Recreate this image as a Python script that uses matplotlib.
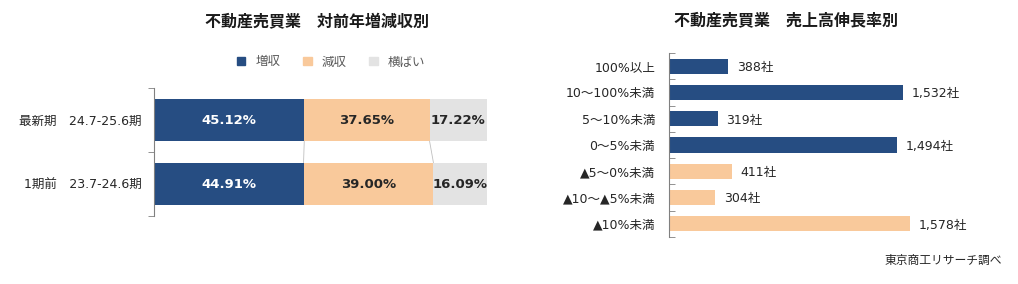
import matplotlib
matplotlib.use("Agg")
import matplotlib.pyplot as plt
import matplotlib.patches as mpatches
import numpy as np

plt.rcParams['font.family'] = ['DejaVu Sans', 'Noto Sans CJK JP']

# left chart data
periods = ["最新期　24.7-25.6期", "1期前　23.7-24.6期"]
series_names = ["増収", "減収", "横ばい"]
zoushu = [45.12, 44.91]
genshu = [37.65, 39.00]
yokobai = [17.22, 16.09]

# right chart data
growth_cats = ["100%以上", "10～100%未満", "5～10%未満", "0～5%未満",
               "▲5～0%未満", "▲10～▲5%未満", "▲10%未満"]
growth_counts = [388, 1532, 319, 1494, 411, 304, 1578]

navy = "#264D82"
peach = "#F9C99B"
grey = "#E3E3E3"
txt = "#262626"

fig = plt.figure(figsize=(10.18, 2.84), dpi=100)

# ---- left: stacked 100% bar
ax1 = fig.add_axes([154/1018, 1-216/284, 333/1018, 128/284])
ypos = np.arange(len(periods))
vals = [zoushu, genshu, yokobai]
cols = [navy, peach, grey]
left = np.zeros(len(periods))
for name, v, c in zip(series_names, vals, cols):
    v = np.array(v)
    ax1.barh(ypos, v, left=left, height=0.67, color=c, label=name)
    for yi, (l, w) in enumerate(zip(left, v)):
        ax1.text(l + w/2, yi, f"{w:.2f}%", ha='center', va='center',
                 fontsize=9.5, fontweight='bold',
                 color='white' if c == navy else txt)
    left = left + v
# series lines
cum1 = np.array(zoushu)
cum2 = cum1 + np.array(genshu)
for cum in (cum1, cum2):
    ax1.plot([cum[0], cum[1]], [0.335, 1-0.335], color="#BFBFBF", lw=0.6)
ax1.set_xlim(0, 100)
ax1.set_ylim(1.5, -0.5)
ax1.set_yticks(ypos)
ax1.set_yticklabels(periods, fontsize=9, color=txt)
ax1.set_yticks([-0.5, 0.5, 1.5], minor=True)
ax1.tick_params(axis='y', which='major', length=0, pad=9)
ax1.tick_params(axis='y', which='minor', length=4, color="#808080", direction='out')
ax1.set_xticks([])
for s in ['top', 'right', 'bottom']:
    ax1.spines[s].set_visible(False)
ax1.spines['left'].set_color("#808080")
ax1.spines['left'].set_linewidth(0.8)

fig.text(317/1018, 1-22/284, "不動産売買業　対前年増減収別", ha='center', va='center',
         fontsize=11.5, fontweight='bold', color="#1A1A1A")
handles = [mpatches.Patch(color=c, label=n) for n, c in zip(series_names, cols)]
fig.legend(handles=handles, loc='center', bbox_to_anchor=(331/1018, 1-62/284),
           ncol=3, frameon=False, fontsize=9, handlelength=0.7, handleheight=0.7,
           columnspacing=1.8, handletextpad=0.8, labelcolor="#595959")

# ---- right: horizontal bars
ax2 = fig.add_axes([669/1018, 1-237/284, 275/1018, 184/284])
gy = np.arange(len(growth_cats))
gcols = [navy]*4 + [peach]*3
ax2.barh(gy, growth_counts, height=0.58, color=gcols)
for yi, v in zip(gy, growth_counts):
    ax2.text(v + 55, yi + 0.05, f"{v:,}社", ha='left', va='center', fontsize=9, color=txt)
ax2.set_xlim(0, 1800)
ax2.set_ylim(len(growth_cats)-0.5, -0.5)
ax2.set_yticks(gy)
ax2.set_yticklabels(growth_cats, fontsize=9, color=txt)
ax2.set_yticks(np.arange(-0.5, len(growth_cats)), minor=True)
ax2.tick_params(axis='y', which='major', length=0, pad=10)
ax2.tick_params(axis='y', which='minor', length=4, color="#808080", direction='in')
ax2.set_xticks([])
for s in ['top', 'right', 'bottom']:
    ax2.spines[s].set_visible(False)
ax2.spines['left'].set_color("#808080")
ax2.spines['left'].set_linewidth(0.8)

fig.text(786/1018, 1-20/284, "不動産売買業　売上高伸長率別", ha='center', va='center',
         fontsize=11.5, fontweight='bold', color="#1A1A1A")
fig.text(1002/1018, 1-260/284, "東京商工リサーチ調べ", ha='right', va='center',
         fontsize=8.5, color=txt)

fig.savefig("out.png", dpi=100, facecolor='white')
